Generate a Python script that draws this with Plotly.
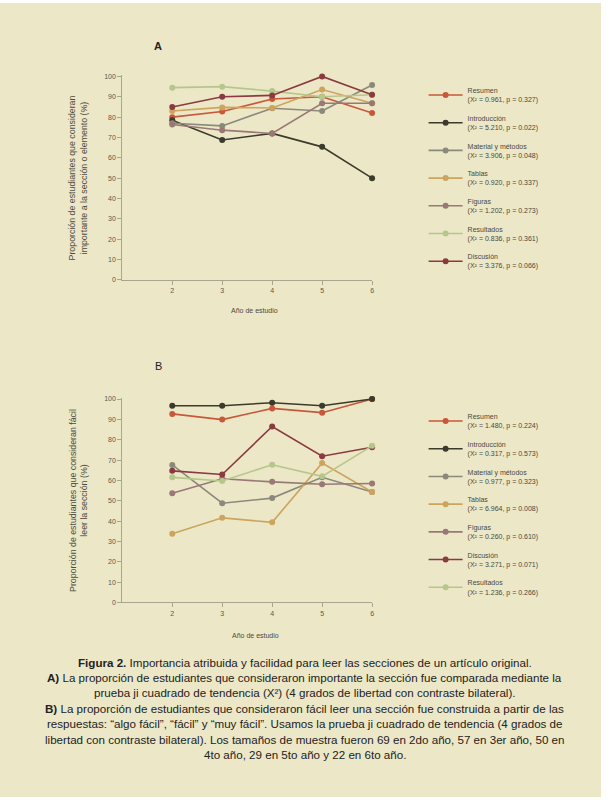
import plotly.graph_objects as go

W, H = 611, 800

years = [2, 3, 4, 5, 6]

# Panel A: importance (%)
a_names = ["Resumen", "Introducción", "Material y métodos", "Tablas", "Figuras", "Resultados", "Discusión"]
a_resumen = [80.0, 82.8, 88.9, 90.0, 82.0]
a_introduccion = [78.5, 68.8, 72.0, 65.4, 50.0]
a_material = [77.0, 75.7, 84.4, 83.0, 95.8]
a_tablas = [83.0, 84.8, 84.5, 93.6, 86.8]
a_figuras = [76.4, 73.6, 72.0, 86.8, 86.8]
a_resultados = [94.5, 95.0, 92.8, 90.0, 91.0]
a_discusion = [85.0, 90.0, 90.7, 100.0, 91.0]
a_chi = ["0.961", "5.210", "3.906", "0.920", "1.202", "0.836", "3.376"]
a_p = ["0.327", "0.022", "0.048", "0.337", "0.273", "0.361", "0.066"]

# Panel B: ease of reading (%)
b_names = ["Resumen", "Introducción", "Material y métodos", "Tablas", "Figuras", "Discusión", "Resultados"]
b_resumen = [92.7, 89.9, 95.4, 93.3, 100.0]
b_introduccion = [96.7, 96.7, 98.2, 96.7, 100.0]
b_material = [67.6, 48.8, 51.3, 61.5, 54.3]
b_tablas = [33.8, 41.6, 39.4, 68.5, 54.3]
b_figuras = [53.7, 60.8, 59.3, 58.1, 58.5]
b_discusion = [64.7, 62.9, 86.5, 71.9, 76.3]
b_resultados = [61.5, 59.7, 67.7, 62.0, 77.0]
b_chi = ["1.480", "0.317", "0.977", "6.964", "0.260", "3.271", "1.236"]
b_p = ["0.224", "0.573", "0.323", "0.008", "0.610", "0.071", "0.266"]

y_ticks = list(range(0, 101, 10))

colors = {
    "Resumen": "#c9573a",
    "Introducción": "#3b3b2b",
    "Material y métodos": "#8b897c",
    "Tablas": "#cda45e",
    "Figuras": "#9a7877",
    "Resultados": "#b5c78b",
    "Discusión": "#8b3a40",
}

a_values = [a_resumen, a_introduccion, a_material, a_tablas, a_figuras, a_resultados, a_discusion]
b_values = [b_resumen, b_introduccion, b_material, b_tablas, b_figuras, b_discusion, b_resultados]

caption_lines = [
    "<b>Figura 2.</b> Importancia atribuida y facilidad para leer las secciones de un artículo original.",
    "<b>A)</b> La proporción de estudiantes que consideraron importante la sección fue comparada mediante la",
    "prueba ji cuadrado de tendencia (X²) (4 grados de libertad con contraste bilateral).",
    "<b>B)</b> La proporción de estudiantes que consideraron fácil leer una sección fue construida a partir de las",
    "respuestas: “algo fácil”, “fácil” y “muy fácil”. Usamos la prueba ji cuadrado de tendencia (4 grados de",
    "libertad con contraste bilateral). Los tamaños de muestra fueron 69 en 2do año, 57 en 3er año, 50 en",
    "4to año, 29 en 5to año y 22 en 6to año.",
]

FONT = "Liberation Sans"
BG = "#ece7c7"
AXC = "#a9a591"

fig = go.Figure()

def add_series(names, values, chis, ps, xa, ya, legend):
    for i, (n, v) in enumerate(zip(names, values)):
        fig.add_trace(go.Scatter(
            x=years, y=v, name=f"{n}<br>(X² = {chis[i]}, p = {ps[i]})",
            mode="lines+markers", xaxis=xa, yaxis=ya, legend=legend,
            legendgroup=f"{legend}{i}",
            line=dict(color=colors[n], width=1.6),
            marker=dict(color=colors[n], size=6),
            cliponaxis=False,
        ))

add_series(a_names, a_values, a_chi, a_p, "x", "y", "legend")
add_series(b_names, b_values, b_chi, b_p, "x2", "y2", "legend2")

def px_x(p):
    return p / W

def px_y(p):
    return 1 - p / H

x_dom = [px_x(122.7), px_x(373.3)]
axis_common = dict(
    showline=True, linecolor=AXC, linewidth=1, ticks="outside", ticklen=4,
    tickcolor=AXC, showgrid=False, zeroline=False,
    tickfont=dict(family=FONT, size=7, color="#5a5a50"),
)
fig.update_layout(
    xaxis=dict(domain=x_dom, range=[1, 6], tickvals=years, anchor="y", **axis_common),
    yaxis=dict(domain=[px_y(279), px_y(73)], range=[0, 100.5], tickvals=y_ticks, anchor="x", **axis_common),
    xaxis2=dict(domain=x_dom, range=[1, 6], tickvals=years, anchor="y2", **axis_common),
    yaxis2=dict(domain=[px_y(604), px_y(398)], range=[0, 100.5], tickvals=y_ticks, anchor="x2", **axis_common),
)

leg_common = dict(
    xanchor="left", yanchor="top", bgcolor="rgba(0,0,0,0)",
    font=dict(family=FONT, size=7, color="#4a4a40"), tracegroupgap=6.5,
    itemwidth=34,
)
fig.update_layout(
    legend=dict(x=px_x(425), y=px_y(77), **leg_common),
    legend2=dict(x=px_x(425), y=px_y(405.5), **leg_common),
)

def ann(text, x, y, size, color="#4a4a40", angle=0, family=FONT):
    return dict(text=text, x=px_x(x), y=px_y(y), xref="paper", yref="paper",
                showarrow=False, textangle=angle, xanchor="center", yanchor="middle",
                font=dict(family=family, size=size, color=color))

annotations = [
    ann("<b>A</b>", 159, 43, 11, "#222"),
    ann("B", 159, 366, 11, "#222"),
    ann("Proporción de estudiantes que consideran<br>importante a la sección o elemento (%)", 78, 176, 8.8, angle=-90),
    ann("Año de estudio", 255.5, 310, 7),
    ann("Proporción de estudiantes que consideran fácil<br>leer la sección (%)", 78, 501, 8.8, angle=-90),
    ann("Año de estudio", 256.5, 637, 7),
]
for k, line in enumerate(caption_lines):
    annotations.append(ann(line, 306, 664 + 15.6 * k, 11.6, "#222"))

fig.update_layout(
    width=W, height=H, autosize=False,
    margin=dict(l=0, r=0, t=0, b=0),
    paper_bgcolor="white", plot_bgcolor="rgba(0,0,0,0)",
    annotations=annotations,
    shapes=[dict(type="rect", xref="paper", yref="paper", x0=0, x1=px_x(603), y0=0, y1=1,
                 fillcolor=BG, line=dict(width=0), layer="below")],
    showlegend=True,
)

fig.write_html(
    "out.html",
    config={"displayModeBar": False},
    post_script="document.body.style.margin='0';document.body.style.overflow='hidden';",
)
